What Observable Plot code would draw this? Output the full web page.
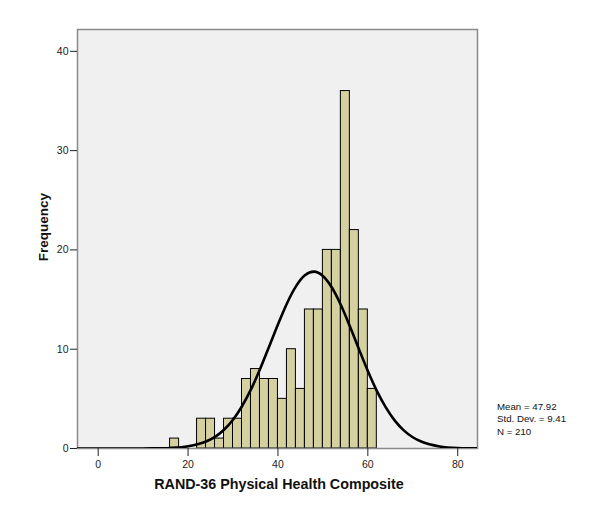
<!DOCTYPE html>
<html>
<head>
<meta charset="utf-8">
<script src="https://cdn.jsdelivr.net/npm/d3@7"></script>
<script src="https://cdn.jsdelivr.net/npm/@observablehq/plot@0.6"></script>
<style>
  html, body { margin: 0; padding: 0; background: #fff; }
  #wrap { position: relative; width: 600px; height: 519px; font-family: "Liberation Sans", Arial, sans-serif; }
  #wrap svg { position: absolute; left: 0; top: 0; }
  .ytitle { position: absolute; left: 43px; top: 227px; transform: translate(-50%, -50%) rotate(-90deg); font-weight: bold; font-size: 13.5px; color: #111; white-space: nowrap; }
  .xtitle { position: absolute; left: 279px; top: 476px; transform: translateX(-50%); font-weight: bold; font-size: 14.3px; color: #111; white-space: nowrap; }
  .stats { position: absolute; left: 497px; top: 401px; font-size: 9.7px; line-height: 12.3px; color: #111; white-space: nowrap; }
</style>
</head>
<body>
<div id="wrap"></div>
<script>
// Histogram bins (lower edge, width 2) and frequencies
const binLower = [16, 18, 20, 22, 24, 26, 28, 30, 32, 34, 36, 38, 40, 42, 44, 46, 48, 50, 52, 54, 56, 58, 60];
const binUpper = [18, 20, 22, 24, 26, 28, 30, 32, 34, 36, 38, 40, 42, 44, 46, 48, 50, 52, 54, 56, 58, 60, 62];
const counts   = [1, 0, 0, 3, 3, 1, 3, 3, 7, 8, 7, 7, 5, 10, 6, 14, 14, 20, 20, 36, 22, 14, 6];

// Normal curve points
const curveX = [-5, 0, 4, 8, 12, 16, 20, 24, 26, 28, 30, 32, 34, 36, 38, 40, 42, 44, 46, 48, 50, 52, 54, 56, 58, 60, 62, 64, 66, 68, 70, 72, 76, 80, 85];
const curveY = [0, 0, 0.0003, 0.002, 0.012, 0.056, 0.218, 0.704, 1.178, 1.894, 2.899, 4.258, 5.95, 7.98, 10.22, 12.49, 14.61, 16.33, 17.44, 17.81, 17.38, 16.21, 14.45, 12.31, 10.03, 7.81, 5.81, 4.14, 2.81, 1.83, 1.135, 0.674, 0.207, 0.053, 0.008];

// Tick labels and stats text
const xTicks = [0, 20, 40, 60, 80];
const yTicks = [0, 10, 20, 30, 40];
const statsLines = ["Mean = 47.92", "Std. Dev. = 9.41", "N = 210"];
const xTitle = "RAND-36 Physical Health Composite";
const yTitle = "Frequency";

const bars = binLower.map((lo, i) => ({lo, hi: binUpper[i], n: counts[i]})).filter(d => d.n > 0);
const curve = curveX.map((x, i) => ({x, y: curveY[i]}));

const chart = Plot.plot({
  width: 600,
  height: 519,
  marginLeft: 77,
  marginRight: 123,
  marginTop: 29,
  marginBottom: 71,
  style: {background: "transparent", fontFamily: "'Liberation Sans', Arial, sans-serif", fontSize: "10px", color: "#222"},
  x: {domain: [-4.6, 84.4]},
  y: {domain: [0, 42.2]},
  marks: [
    Plot.frame({fill: "#f0f0f0", stroke: null}),
    Plot.rectY(bars, {x1: "lo", x2: "hi", y: "n", fill: "#d4d0a0", stroke: "#000", strokeWidth: 1, inset: 0}),
    Plot.frame({stroke: "#8a8a8a", strokeWidth: 1.5, fill: "none"}),
    Plot.line(curve, {x: "x", y: "y", stroke: "#000", strokeWidth: 2.6, curve: "monotone-x", clip: true}),
    Plot.axisY({ticks: yTicks, tickSize: 7, tickPadding: 2, label: null, stroke: "#222", fontSize: 10.5}),
    Plot.axisX({ticks: xTicks, tickSize: 8, tickPadding: 4, label: null, stroke: "#222", fontSize: 10.5})
  ]
});

const wrap = document.getElementById("wrap");
wrap.appendChild(chart);

const yt = document.createElement("div");
yt.className = "ytitle"; yt.textContent = yTitle; wrap.appendChild(yt);
const xt = document.createElement("div");
xt.className = "xtitle"; xt.textContent = xTitle; wrap.appendChild(xt);
const st = document.createElement("div");
st.className = "stats";
statsLines.forEach(s => { const d = document.createElement("div"); d.textContent = s; st.appendChild(d); });
wrap.appendChild(st);
</script>
</body>
</html>
